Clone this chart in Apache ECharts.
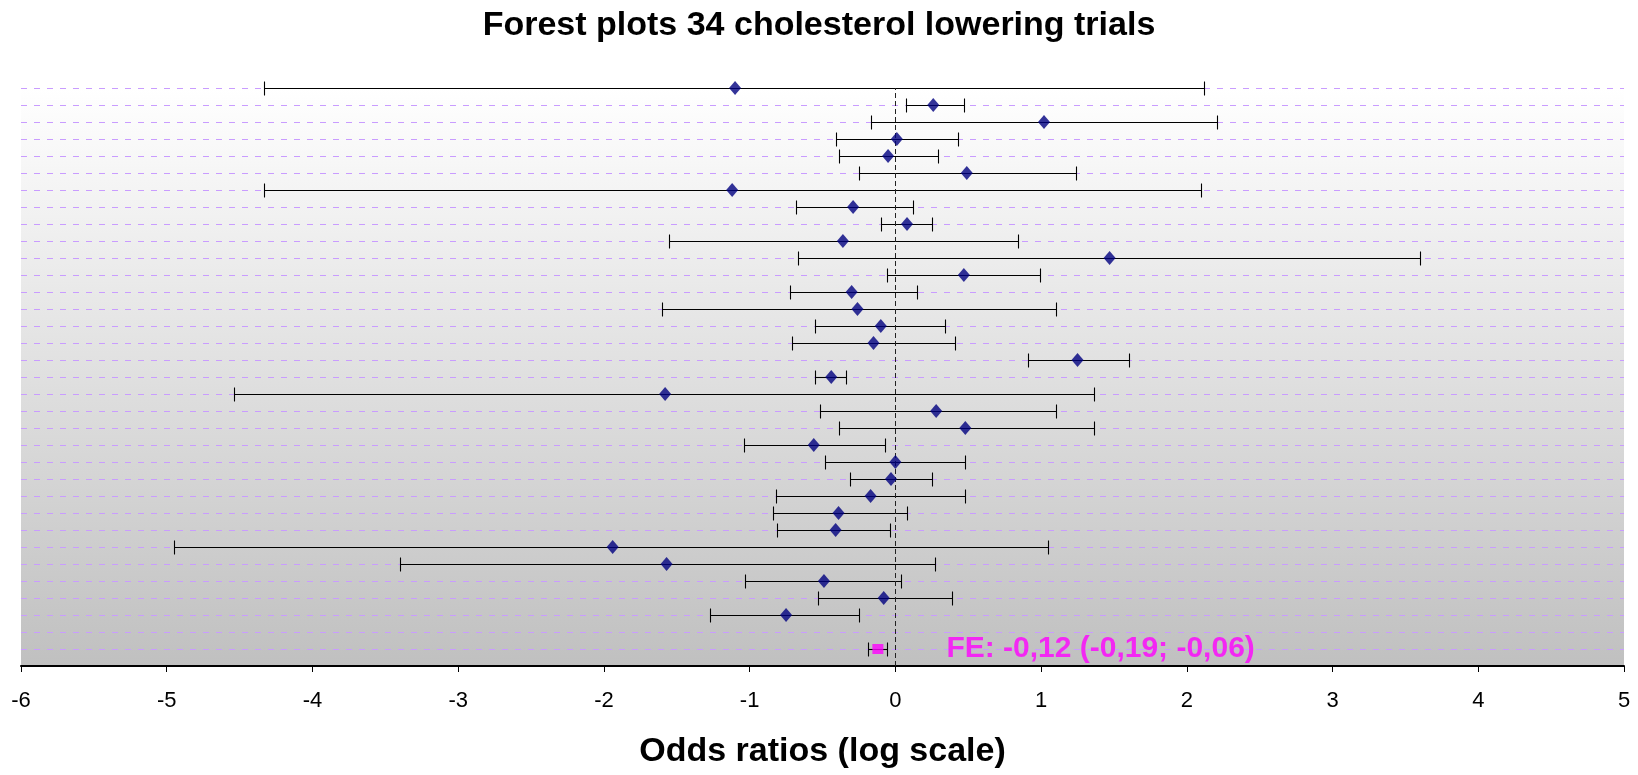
<!DOCTYPE html>
<html>
<head>
<meta charset="utf-8">
<script src="https://cdn.jsdelivr.net/npm/echarts@6/dist/echarts.min.js"></script>
<style>
  html, body { margin: 0; padding: 0; background: #ffffff; }
  #chart { width: 1638px; height: 775px; }
</style>
</head>
<body>
<div id="chart"></div>
<script>
// Trials, top to bottom: log odds ratio estimate and 95% CI bounds
const trials = ['1','2','3','4','5','6','7','8','9','10','11','12','13','14','15','16',
                '17','18','19','20','21','22','23','24','25','26','27','28','29','30','31','32'];
const estimate = [-1.10, 0.26, 1.02, 0.01, -0.05, 0.49, -1.12, -0.29, 0.08, -0.36, 1.47, 0.47, -0.30, -0.26, -0.10, -0.15,
                  1.25, -0.44, -1.58, 0.28, 0.48, -0.56, 0.00, -0.03, -0.17, -0.39, -0.41, -1.94, -1.57, -0.49, -0.08, -0.75];
const lower    = [-4.33, 0.07, -0.17, -0.41, -0.39, -0.25, -4.33, -0.68, -0.10, -1.55, -0.67, -0.06, -0.72, -1.60, -0.55, -0.71,
                  0.91, -0.55, -4.54, -0.52, -0.39, -1.04, -0.48, -0.31, -0.82, -0.84, -0.81, -4.95, -3.40, -1.03, -0.53, -1.27];
const upper    = [2.12, 0.47, 2.21, 0.43, 0.29, 1.24, 2.10, 0.12, 0.25, 0.84, 3.60, 0.99, 0.15, 1.10, 0.34, 0.41,
                  1.60, -0.34, 1.36, 1.10, 1.36, -0.07, 0.48, 0.25, 0.48, 0.08, -0.04, 1.05, 0.27, 0.04, 0.39, -0.25];

// Pooled fixed-effect estimate
const feEstimate = -0.12;
const feLower = -0.19;
const feUpper = -0.06;

// Tick values on the x axis
const xTicks = [-6, -5, -4, -3, -2, -1, 0, 1, 2, 3, 4, 5];

// Row layout: trials occupy the top rows, one blank row, pooled estimate at the bottom
const ROWS = 34;
const feRow = 1;
const rowOf = i => ROWS - i;

const fmt = v => v.toFixed(2).replace('.', ',');

const ciData = trials.map((t, i) => [lower[i], upper[i], rowOf(i), t]);
const pointData = trials.map((t, i) => [estimate[i], rowOf(i), t]);

const FONT = '"Liberation Sans", Arial, Helvetica, sans-serif';

// Horizontal whisker with end caps, snapped to the pixel grid for crisp 1px strokes
function renderCI(params, api) {
  const a = api.coord([api.value(0), api.value(2)]);
  const b = api.coord([api.value(1), api.value(2)]);
  const y = Math.round(a[1]) + 0.5;
  const x1 = Math.round(a[0]) + 0.5;
  const x2 = Math.round(b[0]) + 0.5;
  const cap = 7;
  const style = { stroke: '#000000', lineWidth: 1.1 };
  return {
    type: 'group',
    children: [
      { type: 'line', shape: { x1: x1, y1: y, x2: x2, y2: y }, style },
      { type: 'line', shape: { x1: x1, y1: y - cap, x2: x1, y2: y + cap }, style },
      { type: 'line', shape: { x1: x2, y1: y - cap, x2: x2, y2: y + cap }, style }
    ]
  };
}

const chart = echarts.init(document.getElementById('chart'), null, { renderer: 'canvas' });

chart.setOption({
  animation: false,
  backgroundColor: '#ffffff',
  textStyle: { fontFamily: FONT },
  title: {
    text: 'Forest plots 34 cholesterol lowering trials',
    left: 'center',
    top: 4,
    textStyle: { fontFamily: FONT, fontSize: 34, fontWeight: 'bold', color: '#000000' }
  },
  grid: {
    left: 21,
    right: 14,
    top: 88,
    bottom: 109,
    show: true,
    borderWidth: 0,
    backgroundColor: {
      type: 'linear', x: 0, y: 0, x2: 0, y2: 1,
      colorStops: [
        { offset: 0, color: '#ffffff' },
        { offset: 1, color: '#c0c0c0' }
      ]
    }
  },
  xAxis: {
    type: 'value',
    min: xTicks[0],
    max: xTicks[xTicks.length - 1],
    interval: 1,
    name: 'Odds ratios (log scale)',
    nameLocation: 'middle',
    nameGap: 69,
    nameTextStyle: { fontFamily: FONT, fontSize: 34, fontWeight: 'bold', color: '#000000' },
    axisLine: { show: true, onZero: false, lineStyle: { color: '#000000', width: 2 } },
    axisTick: { show: true, inside: false, length: 6, lineStyle: { color: '#000000', width: 1 } },
    axisLabel: {
      fontFamily: FONT, fontSize: 22, color: '#000000', margin: 24,
      formatter: v => String(v)
    },
    splitLine: { show: false }
  },
  yAxis: {
    type: 'value',
    min: 0,
    max: ROWS,
    interval: 1,
    axisLine: { show: false },
    axisTick: { show: false },
    axisLabel: { show: false },
    splitLine: { show: true, lineStyle: { color: '#c99cff', width: 1, type: [6, 7] } }
  },
  series: [
    {
      name: 'CI',
      type: 'custom',
      renderItem: renderCI,
      encode: { x: [0, 1], y: 2 },
      data: ciData,
      clip: false,
      z: 3,
      markLine: {
        silent: true,
        symbol: 'none',
        label: { show: false },
        lineStyle: { color: '#222222', width: 1, type: [5, 3] },
        data: [{ xAxis: 0 }]
      }
    },
    {
      name: 'FE CI',
      type: 'custom',
      renderItem: renderCI,
      encode: { x: [0, 1], y: 2 },
      data: [[feLower, feUpper, feRow, 'FE']],
      clip: false,
      z: 3
    },
    {
      name: 'Estimate',
      type: 'scatter',
      symbol: 'diamond',
      symbolSize: [12, 14],
      itemStyle: { color: '#000080' },
      data: pointData,
      clip: false,
      z: 5
    },
    {
      name: 'FE',
      type: 'scatter',
      symbol: 'rect',
      symbolSize: [11, 10],
      itemStyle: { color: '#ff00ff' },
      data: [[feEstimate, feRow]],
      clip: false,
      z: 5,
      label: {
        show: true,
        position: 'right',
        distance: 63,
        formatter: () => 'FE: ' + fmt(feEstimate) + ' (' + fmt(feLower) + '; ' + fmt(feUpper) + ')',
        fontFamily: FONT,
        fontSize: 30,
        fontWeight: 'bold',
        color: '#ff00ff'
      }
    }
  ]
});
</script>
</body>
</html>
